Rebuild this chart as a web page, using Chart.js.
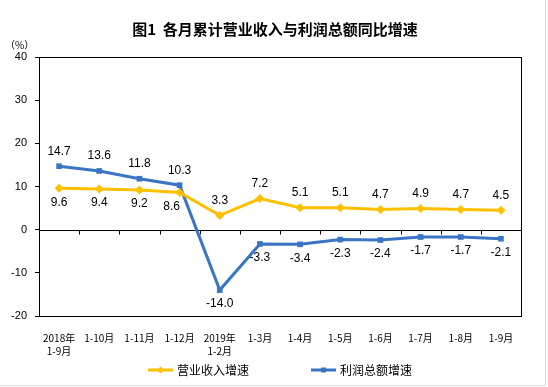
<!DOCTYPE html>
<html>
<head>
<meta charset="utf-8">
<script src="https://cdn.jsdelivr.net/npm/chart.js@4.4.1/dist/chart.umd.min.js"></script>
<style>
  html, body { margin: 0; padding: 0; background: #fff; }
  #wrap { width: 548px; height: 387px; }
</style>
</head>
<body>
<div id="wrap"><canvas id="growth" width="548" height="387"></canvas></div>
<script>
// values
const categories = [['2018年', '1-9月'], '1-10月', '1-11月', '1-12月', ['2019年', '1-2月'],
    '1-3月', '1-4月', '1-5月', '1-6月', '1-7月', '1-8月', '1-9月'];
const revenueGrowth = [9.6, 9.4, 9.2, 8.6, 3.3, 7.2, 5.1, 5.1, 4.7, 4.9, 4.7, 4.5];
const profitGrowth = [14.7, 13.6, 11.8, 10.3, -14.0, -3.3, -3.4, -2.3, -2.4, -1.7, -1.7, -2.1];
const seriesNames = ['营业收入增速', '利润总额增速'];
const yMin = -20;
const yMax = 40;
const yStep = 10;

const yellow = '#FFC000';
const blue = '#3A75C4';
const cjk = '"Noto Sans CJK SC", "Noto Sans", sans-serif';
const latin = '"Liberation Sans", Arial, sans-serif';

const ctx = document.getElementById('growth').getContext('2d');

// frame, zero line with tick marks, value labels, title and legend
const decorations = {
    id: 'decorations',
    beforeDatasetsDraw(chart) {
        const c = chart.ctx;
        const area = chart.chartArea;
        const x = chart.scales.x;
        const y = chart.scales.y;
        c.save();
        c.strokeStyle = '#000';
        c.lineWidth = 1;
        c.strokeRect(Math.round(area.left) + 0.5, Math.round(area.top) + 0.5,
            Math.round(area.right - area.left), Math.round(area.bottom - area.top));
        // zero line
        const zy = Math.round(y.getPixelForValue(0)) + 0.5;
        c.beginPath();
        c.moveTo(area.left, zy);
        c.lineTo(area.right, zy);
        // tick marks between categories
        for (let i = 1; i < categories.length; i++) {
            const bx = Math.round((x.getPixelForValue(i - 1) + x.getPixelForValue(i)) / 2) + 0.5;
            c.moveTo(bx, zy);
            c.lineTo(bx, zy + 4);
        }
        c.stroke();
        c.restore();
    },
    afterDatasetsDraw(chart) {
        const c = chart.ctx;
        c.save();
        c.font = '12px ' + latin;
        c.fillStyle = '#000';
        c.textAlign = 'center';
        c.textBaseline = 'middle';
        const sets = chart.data.datasets;
        sets.forEach((ds, di) => {
            const other = sets[1 - di].data;
            chart.getDatasetMeta(di).data.forEach((pt, i) => {
                const above = ds.data[i] >= other[i];
                const dy = above ? -15 : 14;
                // nudge a lower label left when the other line crosses right after it
                const next = i + 1 < ds.data.length ? (ds.data[i + 1] >= other[i + 1]) : above;
                const dx = (!above && next) ? -8 : 0;
                c.fillText(ds.data[i].toFixed(1), pt.x + dx, pt.y + dy);
            });
        });
        c.restore();
    },
    afterDraw(chart) {
        const c = chart.ctx;
        c.save();
        c.fillStyle = '#000';
        c.textBaseline = 'middle';
        c.textAlign = 'center';
        c.font = 'bold 15px ' + cjk;
        c.fillText('图1  各月累计营业收入与利润总额同比增速', 275, 29);
        c.textAlign = 'left';
        c.font = '10px ' + cjk;
        c.fillText('（%）', 5, 45);

        // legend
        const items = [
            { name: seriesNames[0], color: yellow, style: 'rectRot', r: 3.5 },
            { name: seriesNames[1], color: blue, style: 'rect', r: 3.5 }
        ];
        c.font = '12px ' + cjk;
        let lx = 148;
        const ly = 370;
        items.forEach(it => {
            c.strokeStyle = it.color;
            c.lineWidth = 3;
            c.beginPath();
            c.moveTo(lx, ly);
            c.lineTo(lx + 25, ly);
            c.stroke();
            c.fillStyle = it.color;
            Chart.helpers.drawPoint(c, { pointStyle: it.style, radius: it.r, rotation: 0, borderWidth: 0 }, lx + 12.5, ly);
            c.fillStyle = '#000';
            c.fillText(it.name, lx + 29, ly);
            lx += 29 + c.measureText(it.name).width + 62;
        });

        // light frame at the picture edge
        c.strokeStyle = '#d9d9d9';
        c.lineWidth = 1;
        c.beginPath();
        c.moveTo(545.5, 0);
        c.lineTo(545.5, 385.5);
        c.lineTo(0, 385.5);
        c.stroke();
        c.restore();
    }
};

const growthChart = new Chart(ctx, {
    type: 'line',
    data: {
        labels: categories,
        datasets: [
            {
                label: seriesNames[0],
                data: revenueGrowth,
                borderColor: yellow,
                backgroundColor: yellow,
                borderWidth: 3,
                pointStyle: 'rectRot',
                pointRadius: 4.5,
                pointBorderWidth: 0,
                tension: 0
            },
            {
                label: seriesNames[1],
                data: profitGrowth,
                borderColor: blue,
                backgroundColor: blue,
                borderWidth: 3,
                pointStyle: 'rect',
                pointRadius: 4,
                pointBorderWidth: 0,
                tension: 0
            }
        ]
    },
    options: {
        responsive: false,
        animation: false,
        devicePixelRatio: 1,
        layout: {
            padding: { top: 57, right: 27, bottom: 0, left: 0 }
        },
        plugins: {
            legend: { display: false },
            title: { display: false },
            tooltip: { enabled: false }
        },
        scales: {
            x: {
                offset: true,
                grid: { display: false },
                border: { display: false },
                ticks: {
                    autoSkip: false,
                    maxRotation: 0,
                    padding: 8,
                    color: '#000',
                    font: { size: 10, family: cjk, lineHeight: 1.3 }
                },
                afterFit(scale) { scale.height = 71; }
            },
            y: {
                min: yMin,
                max: yMax,
                grid: {
                    drawOnChartArea: false,
                    drawTicks: true,
                    tickLength: 4,
                    color: '#000'
                },
                border: { display: false },
                ticks: {
                    stepSize: yStep,
                    padding: 8,
                    color: '#000',
                    font: { size: 11, family: latin }
                },
                afterFit(scale) { scale.width = 39; }
            }
        }
    },
    plugins: [decorations]
});
</script>
</body>
</html>
